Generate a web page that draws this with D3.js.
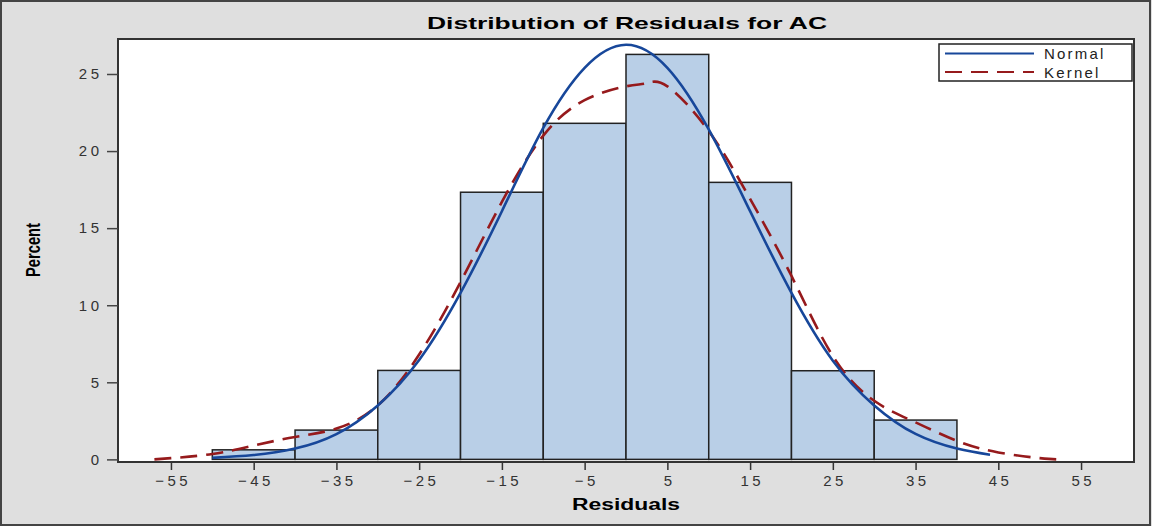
<!DOCTYPE html>
<html>
<meta charset="utf-8">
<head>
<script src="https://cdn.jsdelivr.net/npm/d3@7"></script>
<style>
  body { margin: 0; background: #dfdfdf; }
  text { font-family: "Liberation Sans", Arial, sans-serif; }
</style>
</head>
<body>
<script>
// histogram bins (lower edge, upper edge, percent)
const binStarts = [-50, -40, -30, -20, -10, 0, 10, 20, 30];
const binWidth = 10;
const percents = [0.62, 1.9, 5.77, 17.33, 21.8, 26.27, 17.97, 5.75, 2.55];

// curves
const normalX = [-50, -45, -40, -35, -30, -25, -20, -15, -10, -5, 0, 5, 10, 15, 20, 25, 30, 35, 40, 44];
const normalY = [0.1, 0.28, 0.7, 1.64, 3.5, 6.45, 10.8, 16.1, 21.5, 25.4, 26.9, 25.4, 21.4, 16.1, 10.8, 6.4, 3.5, 1.65, 0.7, 0.3];
const kernelX = [-57, -55, -50, -45, -40, -35, -30, -25, -20, -15, -10, -5, 0, 2.5, 5, 10, 15, 20, 25, 30, 35, 40, 45, 50, 52];
const kernelY = [0, 0.08, 0.35, 0.9, 1.45, 2.0, 3.5, 6.8, 11.5, 16.7, 21.0, 23.3, 24.2, 24.4, 24.2, 21.3, 16.9, 11.9, 6.7, 3.8, 2.4, 1.2, 0.45, 0.08, 0];

const xTicks = [-55, -45, -35, -25, -15, -5, 5, 15, 25, 35, 45, 55];
const yTicks = [0, 5, 10, 15, 20, 25];

const W = 1152, H = 526;
const plotL = 118, plotR = 1134, plotT = 39, plotB = 462;

const svg = d3.select("body").append("svg")
  .attr("width", W).attr("height", H);

svg.append("rect")
  .attr("x", 1).attr("y", 1).attr("width", W - 3).attr("height", H - 2)
  .attr("fill", "#dfdfdf").attr("stroke", "#444").attr("stroke-width", 2);

const x = d3.scaleLinear().domain([-61.4, 61.4]).range([plotL, plotR]);
const y = d3.scaleLinear().domain([-0.17, 27.27]).range([plotB, plotT]);

// plot background
svg.append("rect")
  .attr("x", plotL).attr("y", plotT).attr("width", plotR - plotL).attr("height", plotB - plotT)
  .attr("fill", "#fff");

// bars
svg.append("g").selectAll("rect")
  .data(binStarts)
  .enter()
  .append("rect")
  .attr("x", d => x(d))
  .attr("width", d => x(d + binWidth) - x(d))
  .attr("y", (d, i) => y(percents[i]))
  .attr("height", (d, i) => y(0) - y(percents[i]))
  .attr("fill", "#b9cfe7")
  .attr("stroke", "#222")
  .attr("stroke-width", 1.5);

// curves
const line = d3.line()
  .x(d => x(d[0]))
  .y(d => y(d[1]))
  .curve(d3.curveNatural);

svg.append("path")
  .datum(kernelX.map((v, i) => [v, kernelY[i]]))
  .attr("d", line)
  .attr("fill", "none")
  .attr("stroke", "#961a1c")
  .attr("stroke-width", 2.6)
  .attr("stroke-dasharray", "17,9");

svg.append("path")
  .datum(normalX.map((v, i) => [v, normalY[i]]))
  .attr("d", line)
  .attr("fill", "none")
  .attr("stroke", "#17479a")
  .attr("stroke-width", 2.6);

// frame
svg.append("rect")
  .attr("x", plotL).attr("y", plotT).attr("width", plotR - plotL).attr("height", plotB - plotT)
  .attr("fill", "none").attr("stroke", "#333").attr("stroke-width", 2);

// axes
const xAxis = d3.axisBottom(x).tickValues(xTicks).tickSize(8).tickPadding(5).tickSizeOuter(0);
const gx = svg.append("g").attr("transform", `translate(0, ${plotB})`).call(xAxis);
gx.select(".domain").remove();
gx.selectAll("line").attr("stroke", "#333").attr("stroke-width", 1.5);
gx.selectAll("text")
  .attr("fill", "#333").attr("font-size", 15).attr("letter-spacing", 3.5).attr("dx", 1.75)
  .attr("font-family", "Liberation Sans, Arial, sans-serif");

const yAxis = d3.axisLeft(y).tickValues(yTicks).tickSize(11).tickPadding(8).tickSizeOuter(0);
const gy = svg.append("g").attr("transform", `translate(${plotL}, 0)`).call(yAxis);
gy.select(".domain").remove();
gy.selectAll("line").attr("stroke", "#444").attr("stroke-width", 1.5);
gy.selectAll("text")
  .attr("fill", "#333").attr("font-size", 15).attr("letter-spacing", 3.5).attr("dx", 3.5)
  .attr("font-family", "Liberation Sans, Arial, sans-serif");

// titles
svg.append("text")
  .attr("x", 627).attr("y", 29)
  .attr("text-anchor", "middle")
  .attr("font-size", 17).attr("font-weight", "bold")
  .attr("textLength", 400).attr("lengthAdjust", "spacingAndGlyphs")
  .text("Distribution of Residuals for AC");

svg.append("text")
  .attr("x", 626).attr("y", 510)
  .attr("text-anchor", "middle")
  .attr("font-size", 16).attr("font-weight", "bold")
  .attr("textLength", 108).attr("lengthAdjust", "spacingAndGlyphs")
  .text("Residuals");

svg.append("text")
  .attr("transform", "translate(40, 250) rotate(-90)")
  .attr("text-anchor", "middle")
  .attr("font-size", 21).attr("font-weight", "bold")
  .attr("font-family", "DejaVu Sans Condensed, Liberation Sans Narrow, sans-serif")
  .attr("textLength", 54).attr("lengthAdjust", "spacingAndGlyphs")
  .text("Percent");

// legend
const legend = svg.append("g");
legend.append("rect")
  .attr("x", 939).attr("y", 44).attr("width", 193).attr("height", 37)
  .attr("fill", "#fff").attr("stroke", "#222").attr("stroke-width", 1.5);
const legendItems = [
  { name: "Normal", color: "#17479a", dash: null, yy: 53.5 },
  { name: "Kernel", color: "#961a1c", dash: "17,9", yy: 72 }
];
legendItems.forEach(d => {
  legend.append("line")
    .attr("x1", 945).attr("x2", 1034).attr("y1", d.yy).attr("y2", d.yy)
    .attr("stroke", d.color).attr("stroke-width", 2.2)
    .attr("stroke-dasharray", d.dash);
  legend.append("text")
    .attr("x", 1044).attr("y", d.yy + 5.5)
    .attr("font-size", 15).attr("fill", "#222").attr("letter-spacing", 2.2)
    .text(d.name);
});
</script>
</body>
</html>
